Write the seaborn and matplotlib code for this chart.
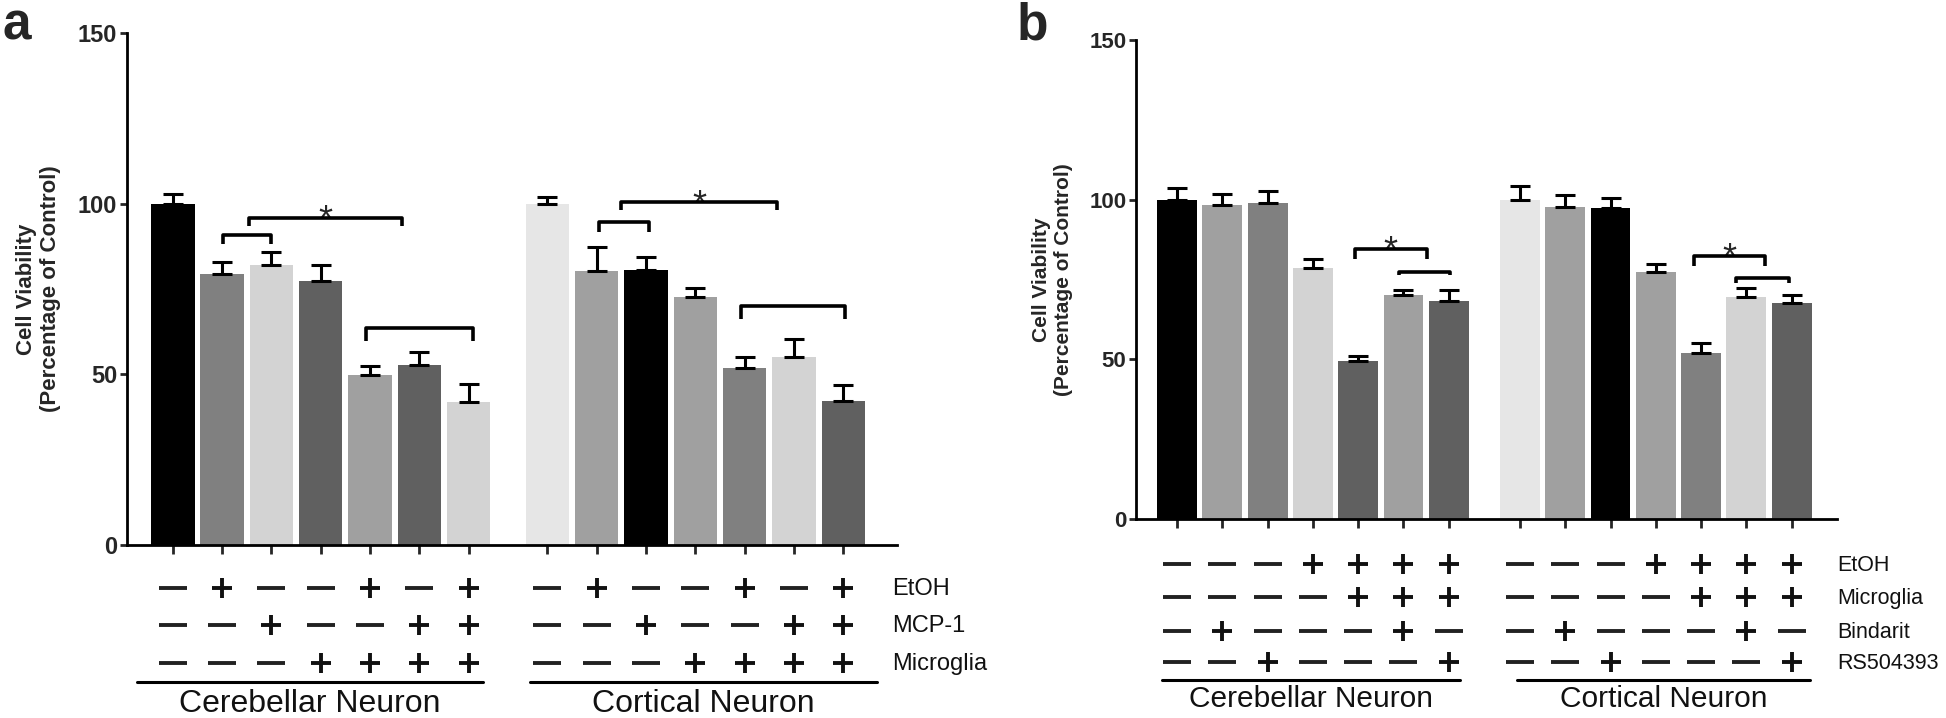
import numpy as np
import pandas as pd
import matplotlib
matplotlib.use("Agg")
import matplotlib.pyplot as plt
import seaborn as sns
from matplotlib.transforms import blended_transform_factory

# ---- data ----
groups = ["Cerebellar Neuron", "Cortical Neuron"]

# panel a
vals_a = [100, 79.5, 82.0, 77.4, 49.7, 52.8, 41.8,
          100, 80.3, 80.7, 72.8, 51.8, 55.0, 42.2]
errs_a = [2.8, 3.4, 3.9, 4.5, 2.8, 3.6, 5.5,
          2.0, 7.0, 3.8, 2.5, 3.2, 5.4, 4.6]
colors_a = ["#000000", "#808080", "#d3d3d3", "#606060", "#a0a0a0", "#606060", "#d3d3d3",
            "#e6e6e6", "#a0a0a0", "#000000", "#a0a0a0", "#808080", "#d3d3d3", "#606060"]
row_labels_a = ["EtOH", "MCP-1", "Microglia"]
rows_a = ["-+--+-+" + "-+--+-+",
          "--+--++" + "--+--++",
          "---++++" + "---++++"]

# panel b
vals_b = [99.8, 98.4, 98.9, 78.7, 49.6, 70.1, 68.2,
          99.8, 97.8, 97.3, 77.3, 52.1, 69.6, 67.7]
errs_b = [3.8, 3.5, 3.9, 2.7, 1.6, 1.6, 3.5,
          4.5, 3.6, 3.2, 2.7, 3.1, 2.7, 2.4]
colors_b = ["#000000", "#a0a0a0", "#808080", "#d3d3d3", "#606060", "#a0a0a0", "#606060",
            "#e6e6e6", "#a0a0a0", "#000000", "#a0a0a0", "#808080", "#d3d3d3", "#606060"]
row_labels_b = ["EtOH", "Microglia", "Bindarit", "RS504393"]
rows_b = ["---++++" + "---++++",
          "----+++" + "----+++",
          "-+---+-" + "-+---+-",
          "--+---+" + "--+---+"]

# significance brackets: (bar_from, bar_to, height, leg_bottom, star)
brackets_a = [(1.02, 2.0, 90.8, 88.2, False), (1.54, 4.65, 95.8, 93.4, True),
              (3.91, 6.09, 63.6, 59.9, False),
              (8.64, 9.66, 94.5, 91.6, False), (9.1, 12.25, 100.4, 98.1, True),
              (11.53, 13.64, 70.1, 66.2, False)]
brackets_b = [(3.93, 5.51, 84.7, 81.4, True), (4.89, 6.03, 77.5, 76.4, False),
              (11.42, 12.99, 82.3, 79.1, True), (12.35, 13.5, 75.5, 73.9, False)]

W, H = 1946, 718

sns.set_theme(style="white")
plt.rcParams["font.family"] = ["Liberation Sans", "DejaVu Sans"]

fig = plt.figure(figsize=(W / 100, H / 100), dpi=100)


def draw_panel(ax, vals, errs, colors, gap, xlim, rows, row_labels, row_y, label_x, label_fs,
               brackets, under, under_y, group_y, tick_fs, ylab_fs, ylab_x, grp_fs):
    pos = [i for i in range(7)] + [gap + i for i in range(7)]
    names = ["c%d" % i for i in range(len(vals))]
    df = pd.DataFrame({"pos": pos, "value": vals, "cond": names})
    sns.barplot(data=df, x="pos", y="value", hue="cond", palette=dict(zip(names, colors)),
                native_scale=True, dodge=False, legend=False, width=0.88,
                errorbar=None, linewidth=0, ax=ax, zorder=2)
    ax.errorbar(pos, vals, yerr=[np.zeros(len(errs)), errs], fmt="none", ecolor="black",
                elinewidth=2.2, capsize=7, capthick=2.2, zorder=3)

    ax.set_xlim(*xlim)
    ax.set_ylim(0, 150)
    ax.set_yticks([0, 50, 100, 150])
    ax.set_xticks(pos)
    ax.set_xticklabels([])
    ax.set_xlabel("")
    ax.set_ylabel("Cell Viability\n(Percentage of Control)", fontsize=ylab_fs,
                  fontweight="bold")
    ax.yaxis.set_label_coords(ylab_x, 0.5)
    for s in ["top", "right"]:
        ax.spines[s].set_visible(False)
    for s in ["left", "bottom"]:
        ax.spines[s].set_linewidth(2)
        ax.spines[s].set_color("black")
    ax.tick_params(axis="y", direction="out", length=5, width=2, labelsize=tick_fs,
                   left=True, pad=2)
    ax.tick_params(axis="x", direction="out", length=6.5, width=2, bottom=True)
    for lab in ax.get_yticklabels():
        lab.set_fontweight("bold")

    # brackets
    for x1, x2, y, yb, star in brackets:
        ax.plot([x1, x1, x2, x2], [yb, y, y, yb], color="black", lw=2.6,
                solid_capstyle="butt", zorder=4)
        if star:
            ax.annotate("*", xy=((x1 + x2) / 2, y), xytext=(0, -9.5),
                        textcoords="offset points", ha="center", va="baseline",
                        fontsize=26)

    # condition table below the axis
    trans = blended_transform_factory(ax.transData, fig.transFigure)
    for r, (row, lab) in enumerate(zip(rows, row_labels)):
        yf = 1 - row_y[r] / H
        px = [p for p, c in zip(pos, row) if c == "+"]
        mx = [p for p, c in zip(pos, row) if c == "-"]
        ax.plot(px, [yf] * len(px), transform=trans, ls="none", marker="+",
                ms=14.5, mew=2.8, color="#111111", clip_on=False)
        ax.plot(mx, [yf] * len(mx), transform=trans, ls="none", marker="_",
                ms=19.5, mew=2.8, color="#222222", clip_on=False)
        fig.text(label_x / W, 1 - (row_y[r] + 7) / H, lab, ha="left", va="baseline",
                 fontsize=label_fs, color="#111111")
    for (u1, u2), name in zip(under, groups):
        yf = 1 - under_y / H
        ax.plot([u1, u2], [yf, yf], transform=trans, color="black", lw=2.2,
                clip_on=False)
        ax.text((u1 + u2) / 2, 1 - group_y / H, name, transform=trans, ha="center",
                va="baseline", fontsize=grp_fs, color="#111111")


# panel a
ax_a = fig.add_axes([127 / W, 1 - 545 / H, 770 / W, 512 / H])
draw_panel(ax_a, vals_a, errs_a, colors_a, gap=7.6, xlim=(-0.93, 14.69),
           rows=rows_a, row_labels=row_labels_a, row_y=[588, 625, 663], label_x=892,
           label_fs=17, brackets=brackets_a, under=[(-0.73, 6.3), (7.24, 14.28)],
           under_y=682, group_y=712, tick_fs=17, ylab_fs=16, ylab_x=-0.086, grp_fs=23)

# panel b
ax_b = fig.add_axes([1136 / W, 1 - 519 / H, 701 / W, 479 / H])
draw_panel(ax_b, vals_b, errs_b, colors_b, gap=7.57, xlim=(-0.905, 14.57),
           rows=rows_b, row_labels=row_labels_b, row_y=[564, 597, 631, 662], label_x=1837,
           label_fs=15.5, brackets=brackets_b, under=[(-0.33, 6.25), (7.5, 13.97)],
           under_y=680, group_y=707, tick_fs=16, ylab_fs=15, ylab_x=-0.09, grp_fs=21.5)

fig.text(2 / W, 1 - 40 / H, "a", fontsize=37, fontweight="bold", ha="left", va="baseline")
fig.text(1017 / W, 1 - 40 / H, "b", fontsize=37, fontweight="bold", ha="left", va="baseline")

fig.savefig("out.png", dpi=100)
